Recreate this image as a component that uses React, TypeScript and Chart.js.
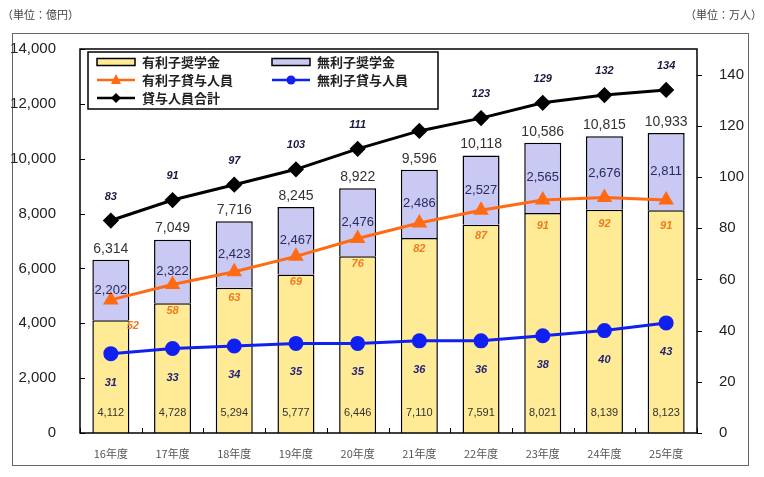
import { useEffect, useRef } from "react";
import { Chart, registerables } from "chart.js";

Chart.register(...registerables);

const categories = ["16年度", "17年度", "18年度", "19年度", "20年度", "21年度", "22年度", "23年度", "24年度", "25年度"];
const interestAmount = [4112, 4728, 5294, 5777, 6446, 7110, 7591, 8021, 8139, 8123];
const freeAmount = [2202, 2322, 2423, 2467, 2476, 2486, 2527, 2565, 2676, 2811];
const totalAmount = [6314, 7049, 7716, 8245, 8922, 9596, 10118, 10586, 10815, 10933];
const interestPeople = [52, 58, 63, 69, 76, 82, 87, 91, 92, 91];
const freePeople = [31, 33, 34, 35, 35, 36, 36, 38, 40, 43];
const totalPeople = [83, 91, 97, 103, 111, 118, 123, 129, 132, 134];
const totalPeopleLabelShown = [true, true, true, true, true, false, true, true, true, true];
const leftTicks = [0, 2000, 4000, 6000, 8000, 10000, 12000, 14000];
const rightTicks = [0, 20, 40, 60, 80, 100, 120, 140];

const YELLOW = "#FFEA96";
const LAVENDER = "#C9C9F4";
const ORANGE = "#FF6A13";
const BLUE = "#1020F0";
const BLACK = "#000000";
const JP = "'Noto Sans CJK JP', 'Liberation Sans', sans-serif";

const fmt = (v: number) => v.toLocaleString("en-US");

const overlayPlugin = {
  id: "overlay",
  beforeDraw(chart: any) {
    const ctx = chart.ctx;
    ctx.save();
    ctx.fillStyle = "#ffffff";
    ctx.fillRect(0, 0, chart.width, chart.height);
    ctx.strokeStyle = "#666";
    ctx.lineWidth = 1;
    ctx.strokeRect(12.5, 33.5, 736, 432);
    ctx.fillStyle = "#444";
    ctx.font = `11px ${JP}`;
    ctx.textBaseline = "middle";
    ctx.textAlign = "left";
    ctx.fillText("（単位：億円）", 2, 15);
    ctx.textAlign = "right";
    ctx.fillText("（単位：万人）", 762, 15);
    ctx.restore();
  },
  afterDatasetsDraw(chart: any) {
    const ctx = chart.ctx;
    const { left, right, top, bottom } = chart.chartArea;
    const metaA = chart.getDatasetMeta(0);
    const metaB = chart.getDatasetMeta(1);
    const metaO = chart.getDatasetMeta(2);
    const metaBl = chart.getDatasetMeta(3);
    const metaT = chart.getDatasetMeta(4);
    ctx.save();
    ctx.textAlign = "center";
    ctx.textBaseline = "middle";
    categories.forEach((_, i) => {
      const a = metaA.data[i];
      const b = metaB.data[i];
      ctx.fillStyle = "#333";
      ctx.font = `11px 'Liberation Sans', sans-serif`;
      ctx.fillText(fmt(interestAmount[i]), a.x, bottom - 20);
      ctx.fillStyle = "#2a2a60";
      ctx.font = `13px 'Liberation Sans', sans-serif`;
      ctx.fillText(fmt(freeAmount[i]), b.x, (b.y + b.base) / 2);
      ctx.fillStyle = "#333";
      ctx.font = `14px 'Liberation Sans', sans-serif`;
      ctx.fillText(fmt(totalAmount[i]), b.x, b.y - 11);
      ctx.font = `italic bold 11px 'Liberation Sans', sans-serif`;
      const o = metaO.data[i];
      ctx.fillStyle = "#F07A20";
      ctx.fillText(String(interestPeople[i]), o.x + (i === 0 ? 22 : 0), o.y + 26);
      const bl = metaBl.data[i];
      ctx.fillStyle = "#23237a";
      ctx.fillText(String(freePeople[i]), bl.x, bl.y + 29);
      const t = metaT.data[i];
      ctx.fillStyle = "#1a1a40";
      if (totalPeopleLabelShown[i]) ctx.fillText(String(totalPeople[i]), t.x, t.y - 24);
    });
    ctx.restore();

    ctx.save();
    ctx.strokeStyle = "#000";
    ctx.lineWidth = 1.5;
    ctx.strokeRect(left, top, right - left, bottom - top);
    ctx.lineWidth = 1;
    const yL = chart.scales.y;
    const yR = chart.scales.y1;
    leftTicks.forEach((v) => {
      const y = Math.round(yL.getPixelForValue(v)) + 0.5;
      ctx.beginPath();
      ctx.moveTo(left, y);
      ctx.lineTo(left + 5, y);
      ctx.stroke();
    });
    rightTicks.forEach((v) => {
      const y = Math.round(yR.getPixelForValue(v)) + 0.5;
      ctx.beginPath();
      ctx.moveTo(right, y);
      ctx.lineTo(right + 5, y);
      ctx.stroke();
    });
    for (let i = 0; i <= categories.length; i++) {
      const x = Math.round(left + ((right - left) * i) / categories.length) + 0.5;
      ctx.beginPath();
      ctx.moveTo(x, bottom);
      ctx.lineTo(x, bottom - 5);
      ctx.stroke();
    }

    const lx = 88, ly = 52, lw = 350, lh = 57;
    ctx.fillStyle = "#fff";
    ctx.fillRect(lx, ly, lw, lh);
    ctx.strokeStyle = "#000";
    ctx.lineWidth = 1.5;
    ctx.strokeRect(lx, ly, lw, lh);
    ctx.font = `bold 13px ${JP}`;
    ctx.textAlign = "left";
    ctx.textBaseline = "middle";
    const rows = [62, 80, 98];
    const drawBox = (x: number, y: number, color: string) => {
      ctx.fillStyle = color;
      ctx.fillRect(x, y - 3.5, 38, 7);
      ctx.lineWidth = 1.5;
      ctx.strokeStyle = "#000";
      ctx.strokeRect(x, y - 3.5, 38, 7);
    };
    const drawLine = (x: number, y: number, color: string, marker: string) => {
      ctx.strokeStyle = color;
      ctx.fillStyle = color;
      ctx.lineWidth = 2.5;
      ctx.beginPath();
      ctx.moveTo(x, y);
      ctx.lineTo(x + 38, y);
      ctx.stroke();
      const cx = x + 19;
      ctx.beginPath();
      if (marker === "tri") {
        ctx.moveTo(cx, y - 6);
        ctx.lineTo(cx + 5, y + 4);
        ctx.lineTo(cx - 5, y + 4);
      } else if (marker === "circle") {
        ctx.arc(cx, y, 4.5, 0, Math.PI * 2);
      } else {
        ctx.moveTo(cx, y - 5);
        ctx.lineTo(cx + 5, y);
        ctx.lineTo(cx, y + 5);
        ctx.lineTo(cx - 5, y);
      }
      ctx.closePath();
      ctx.fill();
    };
    drawBox(97, rows[0], YELLOW);
    drawBox(272, rows[0], LAVENDER);
    drawLine(97, rows[1], ORANGE, "tri");
    drawLine(272, rows[1], BLUE, "circle");
    drawLine(97, rows[2], BLACK, "diamond");
    ctx.fillStyle = "#222";
    ctx.fillText("有利子奨学金", 142, rows[0]);
    ctx.fillText("無利子奨学金", 317, rows[0]);
    ctx.fillText("有利子貸与人員", 142, rows[1]);
    ctx.fillText("無利子貸与人員", 317, rows[1]);
    ctx.fillText("貸与人員合計", 142, rows[2]);
    ctx.restore();
  },
};

export default function App() {
  const ref = useRef<HTMLCanvasElement>(null);
  useEffect(() => {
    document.body.style.margin = "0";
    const chart = new Chart(ref.current!, {
      type: "bar",
      data: {
        labels: categories,
        datasets: [
          {
            type: "bar",
            label: "有利子奨学金",
            data: interestAmount,
            backgroundColor: YELLOW,
            borderColor: "#000",
            borderWidth: 1.5,
            stack: "s",
            yAxisID: "y",
            order: 5,
            barPercentage: 0.6,
            categoryPercentage: 1,
          },
          {
            type: "bar",
            label: "無利子奨学金",
            data: freeAmount,
            backgroundColor: LAVENDER,
            borderColor: "#000",
            borderWidth: 1.5,
            stack: "s",
            yAxisID: "y",
            order: 5,
            barPercentage: 0.6,
            categoryPercentage: 1,
          },
          {
            type: "line",
            label: "有利子貸与人員",
            data: interestPeople,
            borderColor: ORANGE,
            backgroundColor: ORANGE,
            borderWidth: 3,
            pointStyle: "triangle",
            pointRadius: 6,
            yAxisID: "y1",
            order: 1,
            tension: 0,
          },
          {
            type: "line",
            label: "無利子貸与人員",
            data: freePeople,
            borderColor: BLUE,
            backgroundColor: BLUE,
            borderWidth: 3,
            pointStyle: "circle",
            pointRadius: 6,
            yAxisID: "y1",
            order: 1,
            tension: 0,
          },
          {
            type: "line",
            label: "貸与人員合計",
            data: totalPeople,
            borderColor: BLACK,
            backgroundColor: BLACK,
            borderWidth: 3,
            pointStyle: "rectRot",
            pointRadius: 6,
            yAxisID: "y1",
            order: 1,
            tension: 0,
          },
        ] as any,
      },
      options: {
        animation: false,
        responsive: false,
        layout: { padding: { top: 49, left: 0, right: 0, bottom: 0 } },
        plugins: { legend: { display: false }, tooltip: { enabled: false } },
        scales: {
          x: {
            stacked: true,
            grid: { display: false },
            border: { display: false },
            ticks: { color: "#555", font: { family: JP, size: 11 }, padding: 6 },
            afterFit: (s: any) => { s.height = 44; },
          },
          y: {
            stacked: true,
            position: "left",
            min: 0,
            max: 14000,
            grid: { display: false },
            border: { display: false },
            afterBuildTicks: (s: any) => { s.ticks = leftTicks.map((v) => ({ value: v })); },
            ticks: {
              color: "#222",
              font: { family: "'Liberation Sans', sans-serif", size: 15 },
              padding: 16,
              callback: (v: any) => fmt(Number(v)),
            },
            afterFit: (s: any) => { s.width = 80; },
          },
          y1: {
            position: "right",
            min: 0,
            max: 150,
            grid: { display: false },
            border: { display: false },
            afterBuildTicks: (s: any) => { s.ticks = rightTicks.map((v) => ({ value: v })); },
            ticks: {
              color: "#222",
              font: { family: "'Liberation Sans', sans-serif", size: 15 },
              padding: 14,
            },
            afterFit: (s: any) => { s.width = 67; },
          },
        },
      },
      plugins: [overlayPlugin],
    });
    return () => chart.destroy();
  }, []);
  return <canvas ref={ref} width={764} height={477} style={{ display: "block", width: 764, height: 477 }} />;
}
